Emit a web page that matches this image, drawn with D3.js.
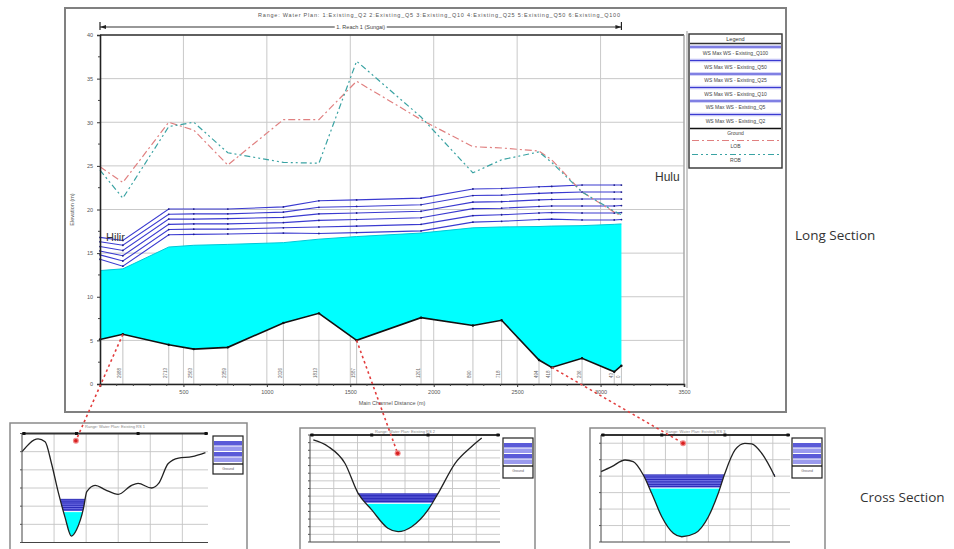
<!DOCTYPE html>
<html><head><meta charset="utf-8">
<script src="https://cdn.jsdelivr.net/npm/d3@7"></script>
<style>
body{margin:0;background:#fff;}
svg{display:block;font-family:"Liberation Sans",Arial,sans-serif;}
</style>
</head><body>
<svg id="chart" width="954" height="549"></svg>
<script>
// ---------- Long section data (distance along main channel, elevations) ----------
const stations = [0, 137, 412, 562, 766, 1099, 1312, 1538, 1924, 2235, 2407, 2631, 2707, 2889, 3082, 3125];
const stationLabels = ["3125","2988","2713","2563","2359","2026","1813","1587","1201","890","718","494","418","236","43","0"];
const ground = [5.1, 5.7, 4.5, 4.0, 4.2, 7.0, 8.1, 5.0, 7.6, 6.7, 7.3, 2.75, 1.9, 2.95, 1.4, 2.1];
const waterBase = [13.0, 13.2, 15.7, 15.9, 16.0, 16.2, 16.6, 16.9, 17.3, 17.9, 18.0, 18.05, 18.1, 18.15, 18.3, 18.35];
const wsQ2   = [14.3, 13.5, 17.1, 17.15, 17.2, 17.3, 17.25, 17.35, 17.55, 18.55, 18.65, 18.85, 18.9, 18.8, 18.8, 18.85];
const wsQ5   = [14.8, 14.1, 17.7, 17.75, 17.75, 17.9, 18.0, 18.1, 18.3, 19.3, 19.4, 19.6, 19.65, 19.6, 19.6, 19.65];
const wsQ10  = [15.25, 14.7, 18.3, 18.35, 18.35, 18.5, 18.75, 18.85, 19.05, 20.1, 20.15, 20.35, 20.4, 20.4, 20.4, 20.45];
const wsQ25  = [15.75, 15.3, 18.9, 18.9, 18.95, 19.1, 19.5, 19.6, 19.8, 20.85, 20.9, 21.1, 21.15, 21.2, 21.2, 21.2];
const wsQ50  = [16.3, 15.9, 19.45, 19.5, 19.5, 19.7, 20.25, 20.35, 20.55, 21.6, 21.65, 21.85, 21.9, 22.0, 22.0, 22.0];
const wsQ100 = [16.8, 16.45, 20.05, 20.05, 20.05, 20.3, 21.0, 21.1, 21.3, 22.35, 22.4, 22.6, 22.65, 22.8, 22.8, 22.8];
const lob = [24.9, 23.1, 30.0, 29.1, 25.1, 30.3, 30.3, 34.7, 30.3, 27.2, 27.05, 26.7, 25.7, 22.0, 19.7, 19.25];
const rob = [24.5, 21.3, 29.5, 30.0, 26.5, 25.4, 25.3, 37.0, 30.6, 24.2, 25.7, 26.6, 25.4, 22.0, 19.8, 19.4];

const wsProfiles = [wsQ2, wsQ5, wsQ10, wsQ25, wsQ50, wsQ100];
const legendProfiles = ["WS Max WS - Existing_Q100","WS Max WS - Existing_Q50","WS Max WS - Existing_Q25",
                        "WS Max WS - Existing_Q10","WS Max WS - Existing_Q5","WS Max WS - Existing_Q2"];
const xTickValues = [500, 1000, 1500, 2000, 2500, 3000, 3500];
const yTickValues = [0, 5, 10, 15, 20, 25, 30, 35, 40];
const planTitle = "Range: Water      Plan:      1:Existing_Q2     2:Existing_Q5     3:Existing_Q10     4:Existing_Q25     5:Existing_Q50     6:Existing_Q100";
const reachName = "1. Reach 1 (Sungai)";

// ---------- Cross sections (offset, elevation, water levels) ----------
const cs1Sta  = [0, 25, 36, 46, 57, 67, 77, 85, 96, 101, 114, 130, 150, 171, 181, 202, 213, 228, 244, 265, 286];
const cs1Elev = [10.0, 11.4, 11.1, 8.7, 5.4, 2.8, 0.7, 1.4, 3.8, 5.6, 6.3, 5.8, 5.3, 6.3, 6.5, 6.0, 6.5, 8.7, 9.3, 9.45, 9.9];
const cs1Cyan = 3.4;
const cs1Ws   = [3.6, 3.85, 4.1, 4.35, 4.55, 4.75];
const cs1Mark = [84, 11.2];

const cs2Sta  = [1.4, 7.6, 14.7, 20.2, 26.0, 32.8, 37.1, 42.8, 49.7, 54.0, 61.1, 68.1, 72.3];
const cs2Elev = [13.35, 12.5, 10.3, 6.4, 4.2, 1.8, 1.35, 2.0, 4.2, 6.4, 10.3, 12.5, 13.6];
const cs2Cyan = 5.06;
const cs2Ws   = [5.3, 5.5, 5.7, 5.9, 6.1, 6.3];
const cs2Mark = [36.9, 11.6];

const cs3Sta  = [0, 5, 11.2, 15, 19.7, 23.6, 28.3, 33.7, 37.6, 43.8, 50, 54.6, 57.7, 62.4, 67, 70.2, 74.8, 81];
const cs3Elev = [8.54, 9.15, 9.96, 9.76, 8.14, 5.92, 3.07, 1.06, 0.64, 1.06, 3.07, 5.92, 8.35, 11.18, 11.99, 11.91, 10.78, 7.93];
const cs3Cyan = 6.55;
const cs3Ws   = [6.75, 7.0, 7.3, 7.6, 7.9, 8.15];
const cs3Mark = [38.2, 12.0];

const svg = d3.select('#chart');
const x = d3.scaleLinear().domain([0, 3500]).range([100, 684]);
const y = d3.scaleLinear().domain([0, 40]).range([384, 35]);

// outer frame of the long section
svg.append('rect').attr('x', 65).attr('y', 8).attr('width', 721).attr('height', 404)
  .attr('fill', '#fff').attr('stroke', '#808080').attr('stroke-width', 2);

// plan title and reach bar
svg.append('text').attr('x', 439).attr('y', 17).attr('text-anchor', 'middle')
  .attr('font-size', 5.5).attr('fill', '#555').attr('textLength', 362).text(planTitle);

const reachY = 27;
const rx0 = x(stations[0]), rx1 = x(stations[stations.length - 1]);
svg.append('line').attr('x1', rx0).attr('x2', rx1).attr('y1', reachY).attr('y2', reachY)
  .attr('stroke', '#333').attr('stroke-width', 1.2);
[rx0, rx1].forEach((px, i) => {
  svg.append('line').attr('x1', px).attr('x2', px).attr('y1', reachY - 5).attr('y2', reachY + 3)
    .attr('stroke', '#222').attr('stroke-width', 1.2);
  const dir = i === 0 ? 1 : -1;
  svg.append('path').attr('d', `M${px},${reachY} l${6 * dir},-2 l0,4 z`).attr('fill', '#222');
});
const rMid = (rx0 + rx1) / 2;
svg.append('rect').attr('x', rMid - 26).attr('y', reachY - 4).attr('width', 52).attr('height', 8).attr('fill', '#fff');
svg.append('text').attr('x', rMid).attr('y', reachY + 2).attr('text-anchor', 'middle')
  .attr('font-size', 5.5).attr('fill', '#444').text(reachName);

// grid
const grid = svg.append('g');
grid.selectAll('line.vg').data(xTickValues).join('line').attr('class', 'vg')
  .attr('x1', d => x(d)).attr('x2', d => x(d)).attr('y1', y(40)).attr('y2', y(0))
  .attr('stroke', '#c9c9c9').attr('stroke-width', 1);
grid.selectAll('line.hg').data(yTickValues).join('line').attr('class', 'hg')
  .attr('x1', x(0)).attr('x2', x(3500)).attr('y1', d => y(d)).attr('y2', d => y(d))
  .attr('stroke', '#c9c9c9').attr('stroke-width', 1);

// profile table
const rows = stations.map((s, i) => ({
  s, g: ground[i], w: waterBase[i], lob: lob[i], rob: rob[i],
  ws: wsProfiles.map(p => p[i]), label: stationLabels[i]
}));

// water body below the lowest profile
svg.append('path').datum(rows)
  .attr('d', d3.area().x(d => x(d.s)).y0(d => y(d.g)).y1(d => y(d.w)))
  .attr('fill', '#00ffff').attr('stroke', 'none');
svg.append('path').datum(rows)
  .attr('d', d3.line().x(d => x(d.s)).y(d => y(d.w)))
  .attr('fill', 'none').attr('stroke', '#00c8d8').attr('stroke-width', 1);

// station lines and labels
svg.append('g').selectAll('line').data(rows.slice(1)).join('line')
  .attr('x1', d => x(d.s)).attr('x2', d => x(d.s)).attr('y1', d => y(d.g)).attr('y2', y(0))
  .attr('stroke', '#9a9a9a').attr('stroke-width', 0.6);
svg.append('g').selectAll('text').data(rows.slice(1)).join('text')
  .attr('transform', d => `translate(${x(d.s) - 1.5},${y(0) - 6}) rotate(-90)`)
  .attr('font-size', 4.5).attr('fill', '#666').text(d => d.label);

// water surface profiles
wsProfiles.forEach((p, k) => {
  svg.append('path').datum(rows)
    .attr('d', d3.line().x(d => x(d.s)).y(d => y(d.ws[k])))
    .attr('fill', 'none').attr('stroke', '#3a3ad0').attr('stroke-width', 1.1);
  svg.append('g').selectAll('circle').data(rows).join('circle')
    .attr('cx', d => x(d.s)).attr('cy', d => y(d.ws[k])).attr('r', 0.9).attr('fill', '#20208a');
});

// ground profile
svg.append('path').datum(rows)
  .attr('d', d3.line().x(d => x(d.s)).y(d => y(d.g)))
  .attr('fill', 'none').attr('stroke', '#111').attr('stroke-width', 1.6);
svg.append('g').selectAll('circle').data(rows).join('circle')
  .attr('cx', d => x(d.s)).attr('cy', d => y(d.g)).attr('r', 1.2).attr('fill', '#111');

// bank elevations
svg.append('path').datum(rows)
  .attr('d', d3.line().x(d => x(d.s)).y(d => y(d.lob)))
  .attr('fill', 'none').attr('stroke', '#e08080').attr('stroke-width', 1.2).attr('stroke-dasharray', '7,3,2,3');
svg.append('path').datum(rows)
  .attr('d', d3.line().x(d => x(d.s)).y(d => y(d.rob)))
  .attr('fill', 'none').attr('stroke', '#3aa3a3').attr('stroke-width', 1.2).attr('stroke-dasharray', '6,3,2,3,2,3');

// plot border and axes
svg.append('line').attr('x1', x(0)).attr('x2', x(3500)).attr('y1', y(40)).attr('y2', y(40)).attr('stroke', '#333').attr('stroke-width', 1.4);
svg.append('line').attr('x1', x(3500)).attr('x2', x(3500)).attr('y1', y(40)).attr('y2', y(0)).attr('stroke', '#999').attr('stroke-width', 1);

const xAxis = svg.append('g').attr('transform', `translate(0,${y(0)})`)
  .call(d3.axisBottom(x).tickValues(xTickValues).tickSize(3).tickPadding(3).tickFormat(d3.format('d')));
const yAxis = svg.append('g').attr('transform', `translate(${x(0)},0)`)
  .call(d3.axisLeft(y).tickValues(yTickValues).tickSize(3).tickPadding(4).tickFormat(d3.format('d')));
[xAxis, yAxis].forEach(a => {
  a.select('.domain').attr('stroke', '#222').attr('stroke-width', 1.6);
  a.selectAll('.tick line').attr('stroke', '#333');
  a.selectAll('.tick text').attr('font-size', 5.5).attr('fill', '#555').attr('font-family', '"Liberation Sans",Arial,sans-serif');
});
// minor ticks
svg.append('g').selectAll('line').data(d3.range(100, 3500, 100).filter(v => v % 500 !== 0)).join('line')
  .attr('x1', d => x(d)).attr('x2', d => x(d)).attr('y1', y(0)).attr('y2', y(0) + 2).attr('stroke', '#444');
svg.append('g').selectAll('line').data(d3.range(2.5, 40, 5)).join('line')
  .attr('x1', x(0) - 2).attr('x2', x(0)).attr('y1', d => y(d)).attr('y2', d => y(d)).attr('stroke', '#444');

svg.append('text').attr('x', (x(0) + x(3500)) / 2).attr('y', 405).attr('text-anchor', 'middle')
  .attr('font-size', 5.5).attr('fill', '#555').text('Main Channel Distance (m)');
svg.append('text').attr('transform', `translate(74,${(y(0) + y(40)) / 2}) rotate(-90)`).attr('text-anchor', 'middle')
  .attr('font-size', 5.5).attr('fill', '#555').text('Elevation (m)');

// end labels
svg.append('text').attr('x', 106).attr('y', 241).attr('font-size', 11).attr('fill', '#333').text('Hilir');
svg.append('text').attr('x', 655).attr('y', 181).attr('font-size', 12).attr('fill', '#333').text('Hulu');

// legend column
svg.append('line').attr('x1', 687).attr('x2', 687).attr('y1', 31).attr('y2', 388).attr('stroke', '#999').attr('stroke-width', 1);
const lg = svg.append('g');
lg.append('rect').attr('x', 689).attr('y', 34).attr('width', 93).attr('height', 134)
  .attr('fill', '#fff').attr('stroke', '#333').attr('stroke-width', 1.4);
lg.append('text').attr('x', 735.5).attr('y', 41).attr('text-anchor', 'middle').attr('font-size', 5.5).attr('fill', '#333').text('Legend');
lg.append('line').attr('x1', 690).attr('x2', 781).attr('y1', 43.5).attr('y2', 43.5).attr('stroke', '#333').attr('stroke-width', 1.6);
legendProfiles.forEach((name, i) => {
  const ly = 47 + i * 13.5;
  lg.append('rect').attr('x', 690).attr('y', ly - 1.8).attr('width', 91).attr('height', 3.6).attr('fill', '#c6c6f6');
  lg.append('line').attr('x1', 690).attr('x2', 781).attr('y1', ly).attr('y2', ly).attr('stroke', '#3a3ad0').attr('stroke-width', 1.1);
  lg.append('text').attr('x', 735.5).attr('y', ly + 8).attr('text-anchor', 'middle').attr('font-size', 5).attr('fill', '#444').text(name);
});
lg.append('line').attr('x1', 690).attr('x2', 781).attr('y1', 128.5).attr('y2', 128.5).attr('stroke', '#111').attr('stroke-width', 1.6);
lg.append('text').attr('x', 735.5).attr('y', 135).attr('text-anchor', 'middle').attr('font-size', 5).attr('fill', '#444').text('Ground');
lg.append('line').attr('x1', 692).attr('x2', 779).attr('y1', 140.5).attr('y2', 140.5).attr('stroke', '#e08080').attr('stroke-width', 1.1).attr('stroke-dasharray', '7,3,2,3');
lg.append('text').attr('x', 735.5).attr('y', 148).attr('text-anchor', 'middle').attr('font-size', 5).attr('fill', '#444').text('LOB');
lg.append('line').attr('x1', 692).attr('x2', 779).attr('y1', 154.5).attr('y2', 154.5).attr('stroke', '#3aa3a3').attr('stroke-width', 1.1).attr('stroke-dasharray', '6,3,2,3,2,3');
lg.append('text').attr('x', 735.5).attr('y', 162).attr('text-anchor', 'middle').attr('font-size', 5).attr('fill', '#444').text('ROB');

// side captions
svg.append('text').attr('x', 795).attr('y', 240).attr('font-size', 13.5).attr('fill', '#333')
  .attr('font-family', '"Open Sans",sans-serif').text('Long Section');
svg.append('text').attr('x', 860).attr('y', 502).attr('font-size', 13.5).attr('fill', '#333')
  .attr('font-family', '"Open Sans",sans-serif').text('Cross Section');

// ---------- Cross section panels ----------
function drawSection(id, sta, elev, cyan, ws, mark, box) {
  const g = svg.append('g');
  const sx = d3.scaleLinear().domain(box.xd).range([box.l, box.r]);
  const sy = d3.scaleLinear().domain(box.yd).range([box.b, box.t]);
  g.append('rect').attr('x', box.fx).attr('y', box.fy).attr('width', box.fw).attr('height', 140)
    .attr('fill', '#fff').attr('stroke', '#8a8a8a').attr('stroke-width', 1.5);
  g.append('text').attr('x', (box.l + box.r) / 2).attr('y', box.fy + 5).attr('text-anchor', 'middle')
    .attr('font-size', 4).attr('fill', '#888').text('Range: Water   Plan: Existing   RS ' + id);
  // grid
  g.selectAll('line.cv').data(d3.range(box.xd[0] + box.xs, box.xd[1], box.xs)).join('line').attr('class', 'cv')
    .attr('x1', d => sx(d)).attr('x2', d => sx(d)).attr('y1', box.t).attr('y2', box.b)
    .attr('stroke', '#c4c4c4').attr('stroke-width', 0.9);
  g.selectAll('line.ch').data(d3.range(box.yd[0] + box.ys, box.yd[1], box.ys)).join('line').attr('class', 'ch')
    .attr('x1', box.l).attr('x2', box.r).attr('y1', d => sy(d)).attr('y2', d => sy(d))
    .attr('stroke', '#c4c4c4').attr('stroke-width', 0.9);
  const pts = sta.map((s, i) => [s, elev[i]]);
  const curve = d3.curveMonotoneX;
  // clip: everything above the ground line
  const clipId = 'clip' + id;
  svg.append('clipPath').attr('id', clipId).append('path')
    .attr('d', d3.area().x(d => sx(d[0])).y0(box.t - 20).y1(d => sy(d[1])).curve(curve)(pts));
  const wg = g.append('g').attr('clip-path', `url(#${clipId})`);
  const top = ws[ws.length - 1];
  wg.append('rect').attr('x', box.l).attr('width', box.r - box.l)
    .attr('y', sy(top)).attr('height', sy(cyan) - sy(top)).attr('fill', '#6c6ce2');
  wg.append('rect').attr('x', box.l).attr('width', box.r - box.l)
    .attr('y', sy(cyan)).attr('height', box.b - sy(cyan) + 10).attr('fill', '#00ffff');
  wg.selectAll('line.ws').data(ws).join('line').attr('class', 'ws')
    .attr('x1', box.l).attr('x2', box.r).attr('y1', d => sy(d)).attr('y2', d => sy(d))
    .attr('stroke', '#2a2ab8').attr('stroke-width', 1);
  wg.append('line').attr('x1', box.l).attr('x2', box.r).attr('y1', sy(cyan)).attr('y2', sy(cyan))
    .attr('stroke', '#fff').attr('stroke-width', 1);
  g.append('path').attr('d', d3.line().x(d => sx(d[0])).y(d => sy(d[1])).curve(curve)(pts))
    .attr('fill', 'none').attr('stroke', '#222').attr('stroke-width', 1.3);
  // plot border and reach bar
  g.append('line').attr('x1', box.l).attr('x2', box.l).attr('y1', box.t).attr('y2', box.b).attr('stroke', '#444');
  g.append('line').attr('x1', box.l).attr('x2', box.r).attr('y1', box.b).attr('y2', box.b).attr('stroke', '#444');
  g.append('line').attr('x1', box.l).attr('x2', box.r).attr('y1', box.t).attr('y2', box.t).attr('stroke', '#333').attr('stroke-width', 2);
  [box.l + 2, sx(sta[Math.floor(sta.length / 3)]), sx(sta[Math.floor(2 * sta.length / 3)]), box.r - 2].forEach(px => {
    g.append('rect').attr('x', px - 1.5).attr('y', box.t - 1.5).attr('width', 3).attr('height', 3).attr('fill', '#111');
  });
  g.selectAll('line.yt').data(d3.range(box.yd[0], box.yd[1] + 0.01, box.ys)).join('line').attr('class', 'yt')
    .attr('x1', box.l - 2).attr('x2', box.l).attr('y1', d => sy(d)).attr('y2', d => sy(d)).attr('stroke', '#555');
  // small legend
  const L = box.leg;
  g.append('rect').attr('x', L[0]).attr('y', L[1]).attr('width', L[2]).attr('height', L[3])
    .attr('fill', '#fff').attr('stroke', '#222').attr('stroke-width', 1.2);
  [0, 1, 2, 3].forEach(k => {
    g.append('rect').attr('x', L[0] + 1).attr('y', L[1] + 5 + k * 5.5).attr('width', L[2] - 2).attr('height', 4.5)
      .attr('fill', k % 2 ? '#9a9aee' : '#5a5ad8');
  });
  g.append('line').attr('x1', L[0]).attr('x2', L[0] + L[2]).attr('y1', L[1] + 28).attr('y2', L[1] + 28).attr('stroke', '#111').attr('stroke-width', 1.3);
  g.append('text').attr('x', L[0] + L[2] / 2).attr('y', L[1] + 34).attr('text-anchor', 'middle')
    .attr('font-size', 3.5).attr('fill', '#666').text('Ground');
  return [sx(mark[0]), sy(mark[1])];
}

const m1 = drawSection('1', cs1Sta, cs1Elev, cs1Cyan, cs1Ws, cs1Mark,
  {fx: 10, fy: 423, fw: 237, l: 22, r: 208, t: 433.5, b: 542.5, xd: [0, 290], xs: 50, yd: [0, 12], ys: 2, leg: [213, 436, 30, 38]});
const m2 = drawSection('2', cs2Sta, cs2Elev, cs2Cyan, cs2Ws, cs2Mark,
  {fx: 300, fy: 428, fw: 235, l: 310, r: 500, t: 435, b: 542, xd: [0, 80], xs: 10, yd: [0, 14], ys: 1, leg: [503, 438, 30, 40]});
const m3 = drawSection('3', cs3Sta, cs3Elev, cs3Cyan, cs3Ws, cs3Mark,
  {fx: 590, fy: 428, fw: 235, l: 601, r: 790, t: 435, b: 542, xd: [0, 88], xs: 10, yd: [0, 13], ys: 2, leg: [792, 438, 30, 40]});

// leader lines from long section stations to their cross sections
const leaders = [[1, m1], [7, m2], [12, m3]];
leaders.forEach(([i, m]) => {
  const sx0 = x(stations[i]), sy0 = y(ground[i]);
  svg.append('line').attr('x1', sx0).attr('y1', sy0).attr('x2', m[0]).attr('y2', m[1])
    .attr('stroke', '#e23c3c').attr('stroke-width', 1.6).attr('stroke-dasharray', '2.5,3');
  svg.append('circle').attr('cx', m[0]).attr('cy', m[1]).attr('r', 3).attr('fill', '#f08a8a');
  svg.append('circle').attr('cx', m[0]).attr('cy', m[1]).attr('r', 1.8).attr('fill', '#d82020');
});
</script>
</body></html>
